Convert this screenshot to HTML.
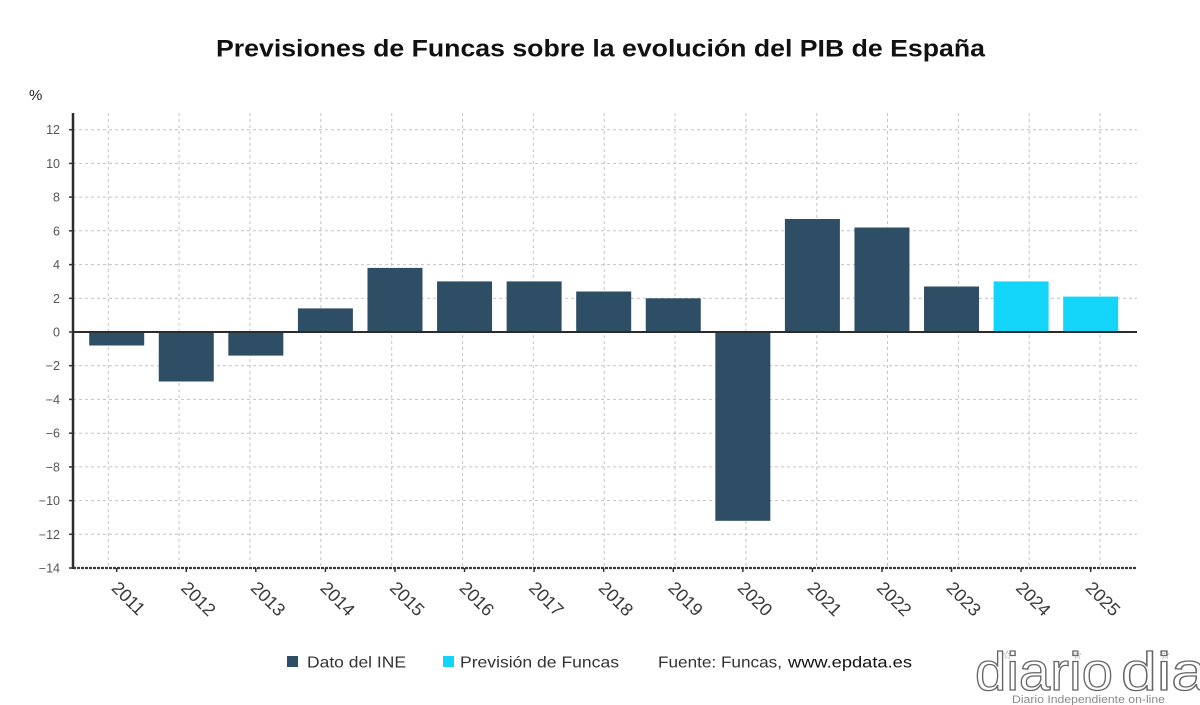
<!DOCTYPE html>
<html>
<head>
<meta charset="utf-8">
<style>
html,body{margin:0;padding:0;background:#fff;}
svg{display:block;}
text{font-family:"Liberation Sans",sans-serif;}
</style>
</head>
<body>
<svg width="1200" height="705" viewBox="0 0 1200 705" xmlns="http://www.w3.org/2000/svg">
<rect width="1200" height="705" fill="#fff"/>
<!-- Title -->
<text x="216" y="56.5" font-size="24" font-weight="bold" fill="#111" textLength="769" lengthAdjust="spacingAndGlyphs">Previsiones de Funcas sobre la evolución del PIB de España</text>
<text x="29" y="100" font-size="15" fill="#222">%</text>

<!-- horizontal gridlines -->
<g stroke="#c4c4c4" stroke-width="1" stroke-dasharray="3,3">
<line x1="73" x2="1137" y1="129.7" y2="129.7"/>
<line x1="73" x2="1137" y1="163.4" y2="163.4"/>
<line x1="73" x2="1137" y1="197.1" y2="197.1"/>
<line x1="73" x2="1137" y1="230.8" y2="230.8"/>
<line x1="73" x2="1137" y1="264.6" y2="264.6"/>
<line x1="73" x2="1137" y1="298.3" y2="298.3"/>
<line x1="73" x2="1137" y1="365.7" y2="365.7"/>
<line x1="73" x2="1137" y1="399.4" y2="399.4"/>
<line x1="73" x2="1137" y1="433.2" y2="433.2"/>
<line x1="73" x2="1137" y1="466.9" y2="466.9"/>
<line x1="73" x2="1137" y1="500.6" y2="500.6"/>
<line x1="73" x2="1137" y1="534.3" y2="534.3"/>
</g>
<!-- vertical gridlines -->
<g stroke="#c4c4c4" stroke-width="1" stroke-dasharray="3,3">
<line x1="108.3" x2="108.3" y1="113" y2="568"/>
<line x1="179.1" x2="179.1" y1="113" y2="568"/>
<line x1="250.0" x2="250.0" y1="113" y2="568"/>
<line x1="320.8" x2="320.8" y1="113" y2="568"/>
<line x1="391.7" x2="391.7" y1="113" y2="568"/>
<line x1="462.5" x2="462.5" y1="113" y2="568"/>
<line x1="533.3" x2="533.3" y1="113" y2="568"/>
<line x1="604.2" x2="604.2" y1="113" y2="568"/>
<line x1="675.0" x2="675.0" y1="113" y2="568"/>
<line x1="745.9" x2="745.9" y1="113" y2="568"/>
<line x1="816.7" x2="816.7" y1="113" y2="568"/>
<line x1="887.5" x2="887.5" y1="113" y2="568"/>
<line x1="958.4" x2="958.4" y1="113" y2="568"/>
<line x1="1029.2" x2="1029.2" y1="113" y2="568"/>
<line x1="1100.1" x2="1100.1" y1="113" y2="568"/>
</g>

<!-- bars -->
<g fill="#2e4e66">
<rect x="89.2" y="332" width="55" height="13.5"/>
<rect x="158.77" y="332" width="55" height="49.5"/>
<rect x="228.34" y="332" width="55" height="23.6"/>
<rect x="297.91" y="308.4" width="55" height="23.6"/>
<rect x="367.48" y="267.9" width="55" height="64.1"/>
<rect x="437.05" y="281.4" width="55" height="50.6"/>
<rect x="506.62" y="281.4" width="55" height="50.6"/>
<rect x="576.19" y="291.5" width="55" height="40.5"/>
<rect x="645.76" y="298.3" width="55" height="33.7"/>
<rect x="715.33" y="332" width="55" height="188.8"/>
<rect x="784.9" y="219.0" width="55" height="113"/>
<rect x="854.47" y="227.5" width="55" height="104.5"/>
<rect x="924.04" y="286.5" width="55" height="45.5"/>
</g>
<g fill="#13d5fa">
<rect x="993.61" y="281.4" width="55" height="50.6"/>
<rect x="1063.18" y="296.6" width="55" height="35.4"/>
</g>

<!-- axes -->
<line x1="73" x2="1137" y1="332" y2="332" stroke="#2b2b2b" stroke-width="2"/>
<line x1="73" x2="1137" y1="568" y2="568" stroke="#3a3a3a" stroke-width="2.2" stroke-dasharray="3,1"/>
<line x1="73" x2="73" y1="113" y2="569" stroke="#2b2b2b" stroke-width="2.5"/>

<!-- y ticks -->
<g stroke="#333" stroke-width="1.5">
<line x1="69" x2="73" y1="129.7" y2="129.7"/>
<line x1="69" x2="73" y1="163.4" y2="163.4"/>
<line x1="69" x2="73" y1="197.1" y2="197.1"/>
<line x1="69" x2="73" y1="230.8" y2="230.8"/>
<line x1="69" x2="73" y1="264.6" y2="264.6"/>
<line x1="69" x2="73" y1="298.3" y2="298.3"/>
<line x1="69" x2="73" y1="332" y2="332"/>
<line x1="69" x2="73" y1="365.7" y2="365.7"/>
<line x1="69" x2="73" y1="399.4" y2="399.4"/>
<line x1="69" x2="73" y1="433.2" y2="433.2"/>
<line x1="69" x2="73" y1="466.9" y2="466.9"/>
<line x1="69" x2="73" y1="500.6" y2="500.6"/>
<line x1="69" x2="73" y1="534.3" y2="534.3"/>
<line x1="69" x2="73" y1="568" y2="568"/>
</g>
<!-- y labels -->
<g font-size="12.5" fill="#555" text-anchor="end">
<text x="60" y="134.2">12</text>
<text x="60" y="167.9">10</text>
<text x="60" y="201.6">8</text>
<text x="60" y="235.3">6</text>
<text x="60" y="269.1">4</text>
<text x="60" y="302.8">2</text>
<text x="60" y="336.5">0</text>
<text x="60" y="370.2">−2</text>
<text x="60" y="403.9">−4</text>
<text x="60" y="437.7">−6</text>
<text x="60" y="471.4">−8</text>
<text x="60" y="505.1">−10</text>
<text x="60" y="538.8">−12</text>
<text x="60" y="572.5">−14</text>
</g>

<!-- x ticks -->
<g stroke="#333" stroke-width="1.5">
<line x1="116.7" x2="116.7" y1="568" y2="572"/>
<line x1="186.27" x2="186.27" y1="568" y2="572"/>
<line x1="255.84" x2="255.84" y1="568" y2="572"/>
<line x1="325.41" x2="325.41" y1="568" y2="572"/>
<line x1="394.98" x2="394.98" y1="568" y2="572"/>
<line x1="464.55" x2="464.55" y1="568" y2="572"/>
<line x1="534.12" x2="534.12" y1="568" y2="572"/>
<line x1="603.69" x2="603.69" y1="568" y2="572"/>
<line x1="673.26" x2="673.26" y1="568" y2="572"/>
<line x1="742.83" x2="742.83" y1="568" y2="572"/>
<line x1="812.4" x2="812.4" y1="568" y2="572"/>
<line x1="881.97" x2="881.97" y1="568" y2="572"/>
<line x1="951.54" x2="951.54" y1="568" y2="572"/>
<line x1="1021.11" x2="1021.11" y1="568" y2="572"/>
<line x1="1090.68" x2="1090.68" y1="568" y2="572"/>
</g>
<!-- x labels -->
<g font-size="18" fill="#3a3a3a">
<text transform="translate(110.5,589) rotate(45)">2011</text>
<text transform="translate(180,589) rotate(45)">2012</text>
<text transform="translate(249.6,589) rotate(45)">2013</text>
<text transform="translate(319.2,589) rotate(45)">2014</text>
<text transform="translate(388.8,589) rotate(45)">2015</text>
<text transform="translate(458.4,589) rotate(45)">2016</text>
<text transform="translate(527.9,589) rotate(45)">2017</text>
<text transform="translate(597.5,589) rotate(45)">2018</text>
<text transform="translate(667.1,589) rotate(45)">2019</text>
<text transform="translate(736.6,589) rotate(45)">2020</text>
<text transform="translate(806.2,589) rotate(45)">2021</text>
<text transform="translate(875.8,589) rotate(45)">2022</text>
<text transform="translate(945.3,589) rotate(45)">2023</text>
<text transform="translate(1014.9,589) rotate(45)">2024</text>
<text transform="translate(1084.5,589) rotate(45)">2025</text>
</g>

<!-- legend -->
<rect x="287" y="656" width="11" height="11" fill="#2e4e66"/>
<text x="307" y="667.5" font-size="16" fill="#333" textLength="99" lengthAdjust="spacingAndGlyphs">Dato del INE</text>
<rect x="443" y="656" width="11" height="11" fill="#13d5fa"/>
<text x="460" y="667.5" font-size="16" fill="#333" textLength="159" lengthAdjust="spacingAndGlyphs">Previsión de Funcas</text>
<text x="658" y="667.5" font-size="16" fill="#333" textLength="124" lengthAdjust="spacingAndGlyphs">Fuente: Funcas,</text>
<text x="788" y="667.5" font-size="16" fill="#111" textLength="124" lengthAdjust="spacingAndGlyphs">www.epdata.es</text>

<!-- watermark -->
<g font-size="54" fill="#fff" stroke="#666" stroke-width="1.3">
<text x="975" y="690" textLength="138" lengthAdjust="spacingAndGlyphs">diario</text>
<text x="1121" y="690" textLength="86" lengthAdjust="spacingAndGlyphs">dia</text>
</g>
<g font-size="12" fill="#999">
<text x="1002" y="659">☆</text>
<text x="1072" y="659">☆</text>
<text x="1160" y="659">☆</text>
</g>
<text x="1012" y="703" font-size="11" fill="#8a8a8a" textLength="153" lengthAdjust="spacingAndGlyphs">Diario Independiente on-line</text>
</svg>
</body>
</html>
